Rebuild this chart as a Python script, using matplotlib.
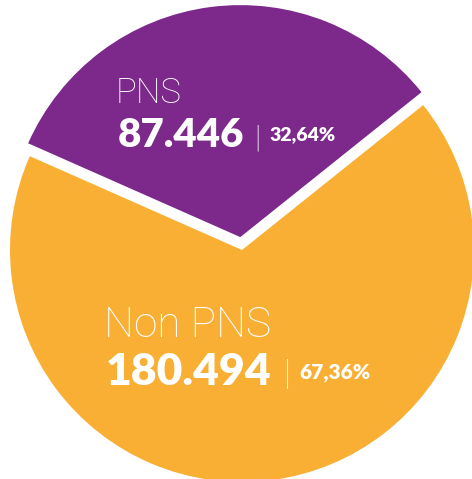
import matplotlib.pyplot as plt

labels = ["PNS", "Non PNS"]
values = [87446, 180494]
value_text = ["87.446", "180.494"]
pct_text = ["32,64%", "67,36%"]
colors = ["#7D298B", "#F8AF33"]

W, H = 472, 479
fig = plt.figure(figsize=(W / 100, H / 100), dpi=100)
ax = fig.add_axes([0, 0, 1, 1])

# purple slice centred around ~97 deg, pulled out by ~13 px
span = values[0] / sum(values) * 360
ax.pie(values, colors=colors, startangle=97.4 - span / 2,
       center=(242, H - 250), radius=232, explode=[13, 0],
       frame=True, wedgeprops=dict(linewidth=0))
ax.set_xlim(0, W)
ax.set_ylim(0, H)
ax.set_aspect("equal")
ax.axis("off")

light = dict(family="Roboto", weight="light", color="white")
bold = dict(family="Lato", weight="heavy", color="white")

# PNS label
ax.text(116, H - 103, labels[0], fontsize=25, ha="left", va="baseline", **light)
ax.text(118, H - 147, value_text[0], fontsize=29, ha="left", va="baseline", **bold)
ax.text(254, H - 146, "|", fontsize=22, ha="left", va="baseline", **light)
ax.text(269, H - 140, pct_text[0], fontsize=14, ha="left", va="baseline", **bold)

# Non PNS label
ax.text(104, H - 337, labels[1], fontsize=30.5, ha="left", va="baseline", **light)
ax.text(106, H - 385, value_text[1], fontsize=32, ha="left", va="baseline", **bold)
ax.text(284, H - 384, "|", fontsize=25, ha="left", va="baseline", **light)
ax.text(299, H - 378, pct_text[1], fontsize=15, ha="left", va="baseline", **bold)

fig.savefig("out.png", dpi=100)
